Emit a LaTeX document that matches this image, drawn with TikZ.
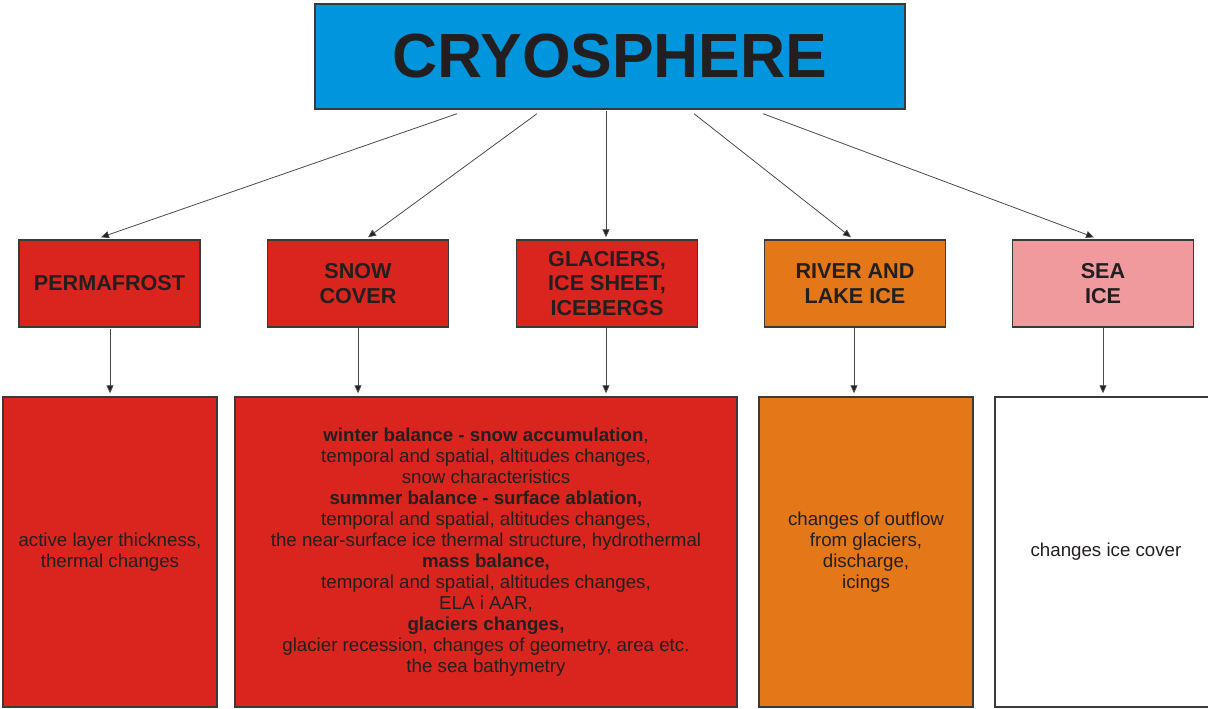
\documentclass[tikz,border=0pt]{standalone}
\usepackage{fontspec}
\setmainfont{Liberation Sans}
\usetikzlibrary{arrows.meta,calc}
\definecolor{cblue}{HTML}{0095DD}
\definecolor{cred}{HTML}{D9251D}
\definecolor{corange}{HTML}{E47717}
\definecolor{cpink}{HTML}{F09A9E}
\definecolor{ctext}{HTML}{231F20}
\definecolor{cborder}{HTML}{3A3A3A}
\definecolor{cline}{HTML}{4A4A4A}
\begin{document}
\begin{tikzpicture}[x=1pt,y=-1pt,
  box/.style={draw=cborder,line width=1.4pt,rectangle,inner sep=0pt,align=center,text=ctext},
  titlebox/.style={box,fill=cblue,minimum width=590pt,minimum height=105pt,font=\bfseries\fontsize{62.4}{70}\selectfont},
  midbox/.style={box,minimum width=181pt,minimum height=87pt,font=\bfseries\fontsize{21.6}{24.5}\selectfont},
  lowbox/.style={box,minimum height=310pt,font=\fontsize{18.7}{21}\selectfont},
  conn/.style={draw=cline,line width=0.8pt,-{Triangle[length=8pt,width=7pt,fill=ctext]}}
]
\useasboundingbox (0,0) rectangle (1208,709);

\node[titlebox] (title) at (610,56.5) {CRYOSPHERE};

\node[midbox,fill=cred]    (perm) at (109.5,283.5) {PERMAFROST};
\node[midbox,fill=cred]    (snow) at (358,283.5) {SNOW\\COVER};
\node[midbox,fill=cred]    (glac) at (607,283.5) {GLACIERS,\\ICE SHEET,\\ICEBERGS};
\node[midbox,fill=corange] (river) at (855,283.5) {RIVER AND\\LAKE ICE};
\node[midbox,fill=cpink]   (sea) at (1103,283.5) {SEA\\ICE};

\node[lowbox,fill=cred,minimum width=214pt] (lperm) at (110,552) {active layer thickness,\\thermal changes};
\node[lowbox,fill=cred,minimum width=502pt] (lglac) at (486,552) {{\bfseries winter balance - snow accumulation},\\
temporal and spatial, altitudes changes,\\
snow characteristics\\
{\bfseries summer balance - surface ablation,}\\
temporal and spatial, altitudes changes,\\
the near-surface ice thermal structure, hydrothermal\\
{\bfseries mass balance,}\\
temporal and spatial, altitudes changes,\\
ELA i AAR,\\
{\bfseries glaciers changes,}\\
glacier recession, changes of geometry, area etc.\\
the sea bathymetry};
\node[lowbox,fill=corange,minimum width=214pt] (lriver) at (866,552) {changes of outflow\\from glaciers,\\discharge,\\icings};
\node[lowbox,fill=white,minimum width=222pt] (lsea) at (1106,552) {changes ice cover};

% connectors from title
\draw[conn] ($(title.south)+(-153,4)$) -- ($(perm.north)+(-8.5,-2)$);
\draw[conn] ($(title.south)+(-73,4)$) -- ($(snow.north)+(10,-2)$);
\draw[conn] ($(title.south)+(-4,1)$) -- ($(glac.north)+(-1,-2)$);
\draw[conn] ($(title.south)+(84,4)$) -- ($(river.north)+(-4,-2)$);
\draw[conn] ($(title.south)+(153,4)$) -- ($(sea.north)+(-9,-2)$);

% connectors to detail boxes
\draw[conn] ($(perm.south)+(0.5,1)$) -- ($(lperm.north -| perm.south)+(0.5,-3)$);
\draw[conn] (snow.south) -- ($(lglac.north -| snow.south)+(0,-3)$);
\draw[conn] ($(glac.south)+(-1,0)$) -- ($(lglac.north -| glac.south)+(-1,-3)$);
\draw[conn] ($(river.south)+(-1,0)$) -- ($(lriver.north -| river.south)+(-1,-3)$);
\draw[conn] (sea.south) -- ($(lsea.north -| sea.south)+(0,-3)$);
\end{tikzpicture}
\end{document}
